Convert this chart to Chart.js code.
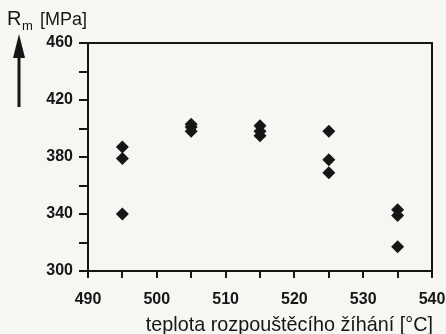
<!DOCTYPE html>
<html>
<head>
<meta charset="utf-8">
<script src="https://cdn.jsdelivr.net/npm/chart.js@4.4.0/dist/chart.umd.min.js"></script>
<style>
  html, body { margin: 0; padding: 0; background: #f6f6f3; }
  #wrap { width: 446px; height: 334px; position: relative; }
</style>
</head>
<body>
<div id="wrap"><canvas id="c" width="446" height="334"></canvas></div>
<script>
// solution annealing temperature [°C] and three Rm readings per temperature
const temps = [495, 505, 515, 525, 535];
const rmFirst = [387, 403, 402, 398, 343];
const rmSecond = [379, 401, 398, 378, 339];
const rmThird = [340, 398, 395, 369, 317];

const xTicks = [490, 500, 510, 520, 530, 540];
const yTicks = [300, 340, 380, 420, 460];

const ink = '#161616';
const font = '"Liberation Sans", Arial, sans-serif';

// all readings go into one scatter series
const points = [];
[rmFirst, rmSecond, rmThird].forEach(function (row) {
  temps.forEach(function (t, i) {
    points.push({ x: t, y: row[i] });
  });
});

// frame around the plot area + axis titles and the arrow
const frameAndLabel = {
  id: 'frameAndLabel',
  afterDraw(chart) {
    const ctx = chart.ctx;
    const a = chart.chartArea;
    ctx.save();
    ctx.strokeStyle = ink;
    ctx.lineWidth = 2;
    ctx.strokeRect(a.left, a.top, a.right - a.left, a.bottom - a.top);

    ctx.fillStyle = ink;
    ctx.textBaseline = 'alphabetic';
    ctx.font = '20px ' + font;
    ctx.fillText('R', 7, 25);
    ctx.font = '13px ' + font;
    ctx.fillText('m', 22, 30);
    ctx.font = '18px ' + font;
    ctx.fillText('[MPa]', 40, 25);

    // x axis title, right aligned to the frame
    ctx.font = '19.8px ' + font;
    ctx.textAlign = 'right';
    ctx.fillText('teplota rozpouštěcího žíhání [°C]', a.right + 1, 331);
    ctx.textAlign = 'left';

    // arrow
    ctx.lineWidth = 3;
    ctx.beginPath();
    ctx.moveTo(19, 107);
    ctx.lineTo(19, 50);
    ctx.stroke();
    ctx.beginPath();
    ctx.moveTo(19, 34);
    ctx.lineTo(13, 58);
    ctx.lineTo(25, 58);
    ctx.closePath();
    ctx.fill();
    ctx.restore();
  }
};

new Chart(document.getElementById('c'), {
  type: 'scatter',
  data: {
    datasets: [{
      data: points,
      pointStyle: 'rectRot',
      radius: 6.5,
      hoverRadius: 6.5,
      backgroundColor: ink,
      borderColor: ink,
      borderWidth: 0
    }]
  },
  options: {
    responsive: false,
    animation: false,
    events: [],
    layout: { padding: { top: 43, right: 14, left: 0, bottom: 0 } },
    plugins: { legend: { display: false }, tooltip: { enabled: false } },
    scales: {
      x: {
        type: 'linear',
        min: 490,
        max: 540,
        afterFit(scale) {
          scale.height = 63;
          // let the last label hang over the right edge like in the original
          scale.paddingRight = 0;
          scale.paddingLeft = 0;
        },
        afterBuildTicks(scale) {
          const t = [];
          for (let v = 490; v <= 540; v += 5) t.push({ value: v });
          scale.ticks = t;
        },
        ticks: {
          color: ink,
          padding: 12,
          maxRotation: 0,
          autoSkip: false,
          font: { family: font, size: 16, weight: 'bold' },
          callback: function (v) { return xTicks.indexOf(v) >= 0 ? String(v) : ''; }
        },
        grid: { drawOnChartArea: false, color: ink, tickLength: 7, tickWidth: 2, lineWidth: 2 },
        border: { color: ink, width: 2 }
      },
      y: {
        type: 'linear',
        min: 300,
        max: 460,
        afterFit(scale) { scale.width = 88; },
        afterBuildTicks(scale) {
          const t = [];
          for (let v = 300; v <= 460; v += 20) t.push({ value: v });
          scale.ticks = t;
        },
        ticks: {
          color: ink,
          padding: 6,
          autoSkip: false,
          font: { family: font, size: 16, weight: 'bold' },
          callback: function (v) { return yTicks.indexOf(v) >= 0 ? String(v) : ''; }
        },
        grid: { drawOnChartArea: false, color: ink, tickLength: 9, tickWidth: 2, lineWidth: 2 },
        border: { color: ink, width: 2 }
      }
    }
  },
  plugins: [frameAndLabel]
});
</script>
</body>
</html>
